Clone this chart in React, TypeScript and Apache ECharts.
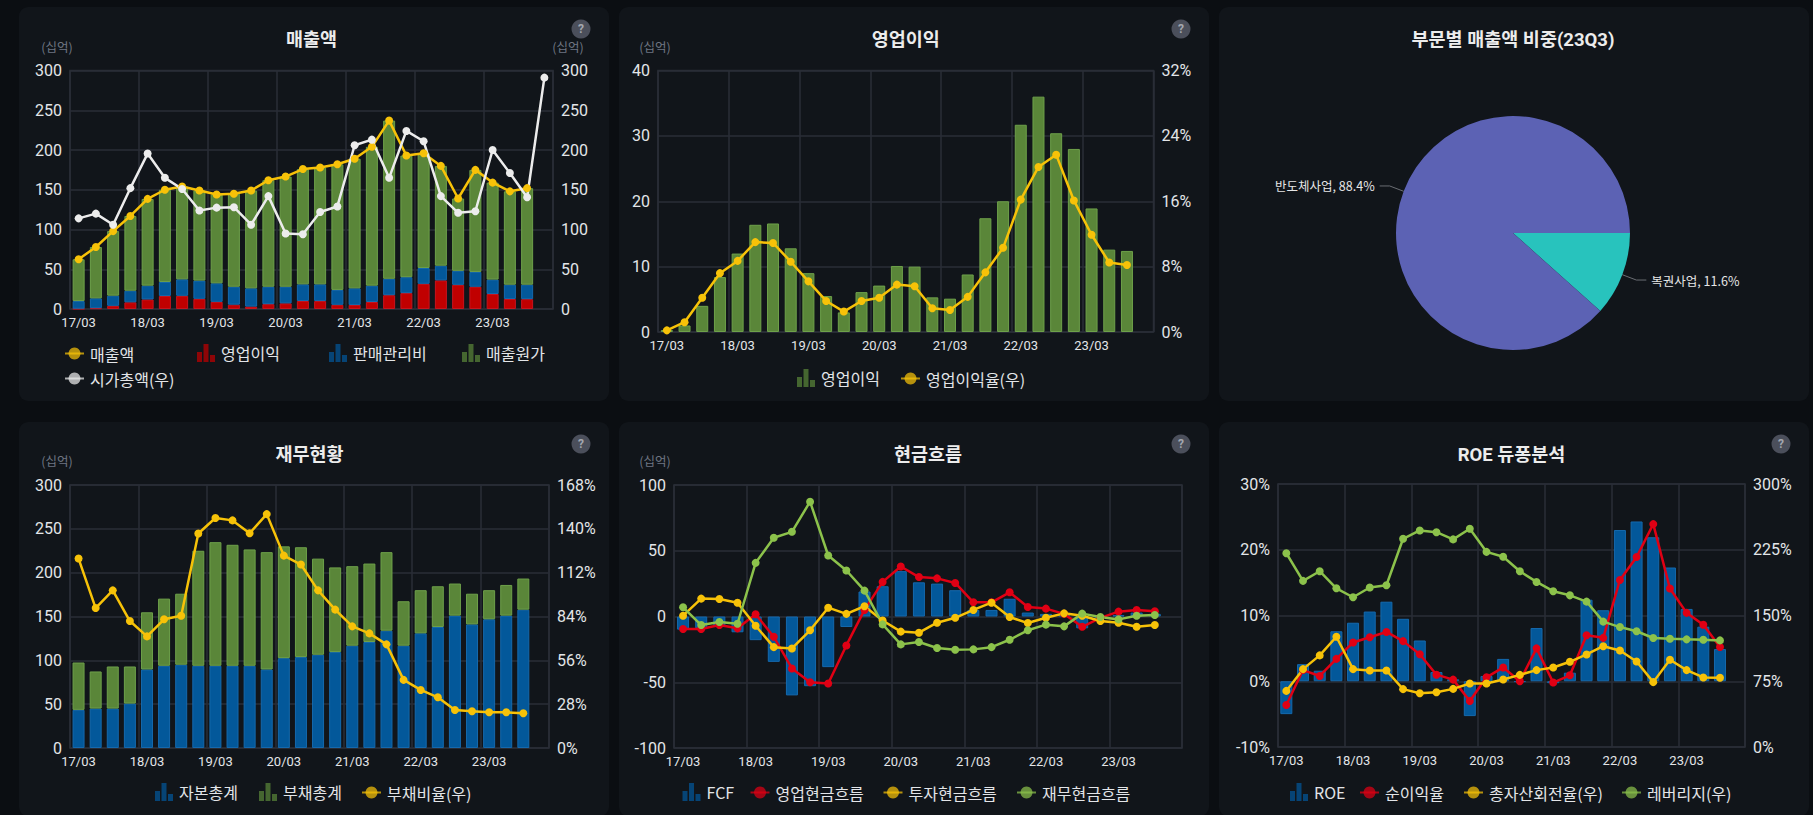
import React, { useEffect, useRef } from "react";
import * as echarts from "echarts";

const quarters = [
  "17/03","17/06","17/09","17/12","18/03","18/06","18/09","18/12","19/03","19/06","19/09","19/12",
  "20/03","20/06","20/09","20/12","21/03","21/06","21/09","21/12","22/03","22/06","22/09","22/12",
  "23/03","23/06","23/09","23/12",
];

const revenue = [62.5,78,98,117,138.5,150,154,149,144,145,149,162,166.6,176,178,182,189,204,237,193,196,180,139,175,159,148,152];
const marketCap = [114,120,106,152,195.5,165,151,124,127.5,128,106,142,95,94,122,129,206,213,165,224,211,142,121,123,200,171,140.5,291];
const opProfit = [0.3,1,4,8.4,12,16.4,16.6,12.8,9,5.5,3,6.1,7.1,10.1,10,5.3,5.1,8.8,17.4,20,31.7,36,30.4,28,18.9,12.6,12.4];
const sga = [9.7,12.4,12.8,14.6,17.4,17.6,20.7,22.9,23.3,22.5,23,21.9,20.9,20.9,21,18.7,20.9,20.6,20.6,20,19.9,18.5,17.6,18.6,18.1,18,18.2];
const cogs = [52.5,64.6,81.2,94,109,116,116.7,113.3,111.7,117,123,134,138.6,145,147,158,163,174.6,199,153,144.4,125.5,91,128.4,122,117.4,121.4];
const opMargin = [0.2,1.2,4.2,7.2,8.7,11,10.9,8.6,6.2,3.8,2.5,3.8,4.2,5.8,5.6,2.9,2.7,4.3,7.3,10.3,16.2,20.2,21.7,16.1,11.9,8.5,8.2];

const equity = [43.5,45,45,50.7,89.6,93.8,95,93.8,93.8,93.8,93.8,89.6,102.5,103.7,106.4,109.4,116.7,120.9,133.8,116.7,130.8,138,151,141,146.8,151,157.8];
const debt = [54,42.3,48,42.3,65.2,76.6,81,131.2,141,138,132.7,133.8,127.5,125.3,109.6,96.6,90.7,89.5,89.6,50.7,49.2,46.5,36.6,35,33.2,35,35.5];
const debtRatio = [121,89.4,100.7,81.1,71.3,82.2,84.5,137,146.9,145.4,137.2,149.4,122.9,117.2,100.7,88.4,77.7,73.2,66.2,43.5,37.1,32.4,24.3,23.5,22.8,22.8,22.2];

const fcf = [-10,-9,-7,-12,-18,-34.5,-60,-53,-38.5,-8,19,23,34.5,26,25,20,5,5,13.5,3,2,1,-9,-1,1,3,2];
const opCash = [-9.5,-9.5,-6.5,-9,1.7,-15.4,-39.5,-50,-51,-22,5,26.3,38,30,29,25.5,10.8,10.8,18.4,7.2,6,2,-7.8,-1,3.7,5,4];
const invCash = [0.6,13.6,13.3,10.5,-7,-23.3,-24.3,-10.5,6.7,2,7.8,-3,-11.5,-12.3,-4.7,-1,5,10.5,-0.4,-5,-1,2.4,0.6,-3.4,-4.7,-7.8,-6.5];
const finCash = [7,-6.5,-4.2,-5.5,40.8,59.9,64.4,87.3,46.4,35,19.7,-6,-21.2,-19.4,-24,-25.3,-25,-23.3,-17.7,-10.5,-6.2,-7.5,2.2,-0.4,-2.2,0.6,1.1];

const roe = [-5,2.6,1.6,7.6,8.9,10.6,12.1,9.5,6.2,1.4,0.3,-5.3,0.8,3.4,-0.1,8.1,-0.3,1.3,12.4,10.8,23,24.3,21.9,17.3,11,8.3,4.9];
const netMargin = [-3.6,1.7,0.8,3.4,5.9,6.7,7.5,6.1,4.1,1,0.25,-3,0.6,2.1,0,5,-0.2,0.9,7,6.6,15.4,18.9,23.9,14.1,10.4,8.6,5.2];
const assetTurnover = [64,88.8,104.5,125.8,88.8,87.3,87.3,66,61.4,62.5,66.3,72.4,72.4,77,82.3,87.7,90.7,97.2,105.6,115,110,97.6,74,99.5,87.7,79.3,79];
const leverage = [221,189.5,200.5,181,170.8,181.9,184.5,237.5,247,245,236.8,249,222.6,217,200.5,188.3,177.7,173,165.8,143,136.8,132,124.3,123.5,122.8,122.4,121.6];

const segmentNames = ["복권사업", "반도체사업"];
const segmentValues = [11.6, 88.4];

const FONT = 'Roboto, "Noto Sans CJK KR", sans-serif';
const KFONT = '"Noto Sans CJK KR", Roboto, sans-serif';
const GRID = "#2a2e37";
const TEXT = "#e3e5e8";
const YELLOW = "#f7c208";
const RED = "#e00014";
const WHITE = "#ececec";
const LIME = "#8cc24b";
const BAR_GREEN = { color: "#5a8639", borderColor: "#6ea14a", borderWidth: 1 };
const BAR_BLUE = { color: "#03589a", borderColor: "#1569ad", borderWidth: 1 };
const BAR_RED = { color: "#c00000", borderColor: "#c8141e", borderWidth: 1 };
const BAR_ICON = "path://M0 8h5v10H0z M6.5 0h5v18h-5z M13 11h5v7h-5z";

const PW = 590;
const PH = 394;
const PANELS = [
  { x: 19, y: 7 }, { x: 619, y: 7 }, { x: 1219, y: 7 },
  { x: 19, y: 422 }, { x: 619, y: 422 }, { x: 1219, y: 422 },
];

const bar = (name: string, data: number[], style: any, stack?: string) => ({
  type: "bar", name, data, stack, barWidth: 12, itemStyle: style, z: 2,
});
const line = (name: string, data: number[], color: string, yAxisIndex = 0) => ({
  type: "line", name, data, yAxisIndex, symbol: "circle", symbolSize: 8,
  lineStyle: { color, width: 2.5 }, itemStyle: { color }, z: 5,
});

function legendItem(p: any, name: string, textX: number, cy: number, isBar: boolean) {
  const iw = isBar ? 18 : 19;
  const ih = isBar ? 18 : 15;
  return {
    left: textX - iw - 6 - p.x,
    top: cy - ih / 2 - p.y - 1,
    padding: 0,
    itemWidth: iw,
    itemHeight: ih,
    selectedMode: false,
    data: [{
      name,
      icon: isBar ? BAR_ICON : undefined,
      itemStyle: { opacity: 0.72, borderWidth: 0 },
      lineStyle: { opacity: 0.72 },
    }],
    textStyle: { color: TEXT, fontSize: 16, fontFamily: KFONT, padding: [0, 0, 0, 1] },
  };
}

function cartesian(p: any, o: any) {
  const axisBase = {
    type: "value", min: o.min, axisLine: { show: false }, axisTick: { show: false },
    splitLine: { show: true, lineStyle: { color: GRID, width: 1.5 } },
    axisLabel: { color: TEXT, fontSize: 16, margin: 8, fontFamily: FONT },
  };
  const yAxis: any[] = [{
    ...axisBase, min: o.left[0], max: o.left[1], interval: o.left[2],
    axisLabel: { ...axisBase.axisLabel, formatter: o.left[3] || "{value}" },
    name: o.unitPad != null ? "(십억)" : undefined, nameLocation: "end", nameGap: 18,
    nameTextStyle: { color: "#6f7682", fontSize: 12.5, fontFamily: KFONT, padding: [0, o.unitPad || 0, 0, 0] },
  }];
  if (o.right) {
    yAxis.push({
      ...axisBase, position: "right", min: o.right[0], max: o.right[1], interval: o.right[2],
      splitLine: { show: false },
      axisLabel: { ...axisBase.axisLabel, formatter: o.right[3] || "{value}" },
      name: o.unitR ? "(십억)" : undefined, nameLocation: "end", nameGap: 18,
      nameTextStyle: { color: "#6f7682", fontSize: 12.5, fontFamily: KFONT, padding: [0, 0, 0, 30] },
    });
  }
  return {
    animation: false,
    backgroundColor: "transparent",
    title: {
      text: o.title, left: (o.gx0 + o.gx1) / 2 - p.x, top: o.titleCy - p.y - 8, textAlign: "center", padding: 0,
      textStyle: { color: "#ececec", fontSize: 18.5, fontWeight: "bold", fontFamily: FONT },
    },
    grid: {
      show: true, borderColor: GRID, borderWidth: 1.5,
      left: o.gx0 - p.x, right: p.x + PW - o.gx1, top: o.gy0 - p.y, bottom: p.y + PH - o.gy1,
    },
    xAxis: {
      type: "category", data: quarters, boundaryGap: true,
      axisLine: { show: false, onZero: false },
      axisTick: { show: false },
      splitLine: { show: true, interval: 3, lineStyle: { color: GRID, width: 1.5 } },
      axisLabel: { color: TEXT, fontSize: 13, interval: 3, margin: 7, fontFamily: FONT },
    },
    yAxis,
    legend: o.legends,
    series: o.series,
    graphic: helpBadge(o.helpX - p.x, o.helpY - p.y),
  };
}

function helpBadge(x: number, y: number) {
  return [
    { type: "circle", shape: { cx: x, cy: y, r: 9.5 }, style: { fill: "#4b4f5b" }, silent: true },
    {
      type: "text", x, y, silent: true,
      style: { text: "?", fill: "#a3a7af", fontSize: 12, fontWeight: "bold", fontFamily: FONT, align: "center", verticalAlign: "middle" },
    },
  ];
}

function buildOptions(): any[] {
  const [p1, p2, p3, p4, p5, p6] = PANELS;
  const o1 = cartesian(p1, {
    title: "매출액", gx0: 70, gx1: 553, gy0: 70.5, gy1: 309, titleCy: 39, helpX: 581, helpY: 29,
    left: [0, 300, 50], right: [0, 300, 50], unitPad: 26, unitR: true,
    series: [
      bar("영업이익", opProfit, BAR_RED, "a"),
      bar("판매관리비", sga, BAR_BLUE, "a"),
      bar("매출원가", cogs, BAR_GREEN, "a"),
      line("매출액", revenue, YELLOW),
      line("시가총액(우)", marketCap, WHITE, 1),
    ],
    legends: [
      legendItem(p1, "매출액", 89, 354, false),
      legendItem(p1, "영업이익", 221, 354, true),
      legendItem(p1, "판매관리비", 353, 354, true),
      legendItem(p1, "매출원가", 486, 354, true),
      legendItem(p1, "시가총액(우)", 89, 379, false),
    ],
  });
  const o2 = cartesian(p2, {
    title: "영업이익", gx0: 658, gx1: 1153.5, gy0: 70.5, gy1: 332, titleCy: 39, helpX: 1181, helpY: 29,
    left: [0, 40, 10], right: [0, 32, 8, "{value}%"], unitPad: 6,
    series: [bar("영업이익", opProfit, BAR_GREEN), line("영업이익율(우)", opMargin, YELLOW, 1)],
    legends: [
      legendItem(p2, "영업이익", 821, 379, true),
      legendItem(p2, "영업이익율(우)", 925, 379, false),
    ],
  });
  const o3 = {
    animation: false,
    backgroundColor: "transparent",
    title: {
      text: "부문별 매출액 비중(23Q3)", left: 1513 - p3.x, top: 39 - p3.y - 8, textAlign: "center", padding: 0,
      textStyle: { color: "#ececec", fontSize: 18.5, fontWeight: "bold", fontFamily: FONT },
    },
    series: [{
      type: "pie", center: [1513 - p3.x, 233 - p3.y], radius: 117, startAngle: 0, clockwise: true,
      data: segmentNames.map((name, i) => ({ name, value: segmentValues[i] })),
      color: ["#28c3bd", "#5c62b4"],
      label: { color: "#e6e6e6", fontSize: 12.5, fontFamily: KFONT, formatter: "{b}, {d}%" },
      labelLine: { length: 15, length2: 10, lineStyle: { color: "#6a6d73", width: 1 } },
      itemStyle: { borderWidth: 0 },
      silent: true,
    }],
  };
  const o4 = cartesian(p4, {
    title: "재무현황", gx0: 70, gx1: 549, gy0: 485, gy1: 748, titleCy: 454, helpX: 581, helpY: 444,
    left: [0, 300, 50], right: [0, 168, 28, "{value}%"], unitPad: 26,
    series: [
      bar("자본총계", equity, BAR_BLUE, "a"),
      bar("부채총계", debt, BAR_GREEN, "a"),
      line("부채비율(우)", debtRatio, YELLOW, 1),
    ],
    legends: [
      legendItem(p4, "자본총계", 179, 793, true),
      legendItem(p4, "부채총계", 283, 793, true),
      legendItem(p4, "부채비율(우)", 386, 793, false),
    ],
  });
  const o5 = cartesian(p5, {
    title: "현금흐름", gx0: 674, gx1: 1182, gy0: 485, gy1: 748, titleCy: 454, helpX: 1181, helpY: 444,
    left: [-100, 100, 50], unitPad: 38,
    series: [
      bar("FCF", fcf, BAR_BLUE),
      line("영업현금흐름", opCash, RED),
      line("투자현금흐름", invCash, YELLOW),
      line("재무현금흐름", finCash, LIME),
    ],
    legends: [
      legendItem(p5, "FCF", 706.5, 793, true),
      legendItem(p5, "영업현금흐름", 774.5, 793, false),
      legendItem(p5, "투자현금흐름", 907.5, 793, false),
      legendItem(p5, "재무현금흐름", 1041, 793, false),
    ],
  });
  const o6 = cartesian(p6, {
    title: "ROE 듀퐁분석", gx0: 1278, gx1: 1745, gy0: 484, gy1: 747, titleCy: 454, helpX: 1781, helpY: 444,
    left: [-10, 30, 10, "{value}%"], right: [0, 300, 75, "{value}%"],
    series: [
      bar("ROE", roe, BAR_BLUE),
      line("순이익율", netMargin, RED),
      line("총자산회전율(우)", assetTurnover, YELLOW, 1),
      line("레버리지(우)", leverage, LIME, 1),
    ],
    legends: [
      legendItem(p6, "ROE", 1314, 793, true),
      legendItem(p6, "순이익율", 1384, 793, false),
      legendItem(p6, "총자산회전율(우)", 1488, 793, false),
      legendItem(p6, "레버리지(우)", 1646, 793, false),
    ],
  });
  return [o1, o2, o3, o4, o5, o6];
}

export default function App() {
  const refs = useRef<(HTMLDivElement | null)[]>([]);
  useEffect(() => {
    document.body.style.margin = "0";
    document.body.style.background = "#0b0e12";
    const opts = buildOptions();
    const charts = refs.current.map((el, i) => {
      const c = echarts.init(el as HTMLDivElement, undefined, { renderer: "svg" });
      c.setOption(opts[i]);
      return c;
    });
    return () => charts.forEach((c) => c.dispose());
  }, []);
  return (
    <div style={{ position: "fixed", left: 0, top: 0, width: 1813, height: 815, overflow: "hidden", background: "#0b0e12" }}>
      {PANELS.map((p, i) => (
        <div
          key={i}
          ref={(el) => { refs.current[i] = el; }}
          style={{ position: "absolute", left: p.x, top: p.y, width: PW, height: PH, background: "#11151a", borderRadius: 9, overflow: "hidden" }}
        />
      ))}
    </div>
  );
}
